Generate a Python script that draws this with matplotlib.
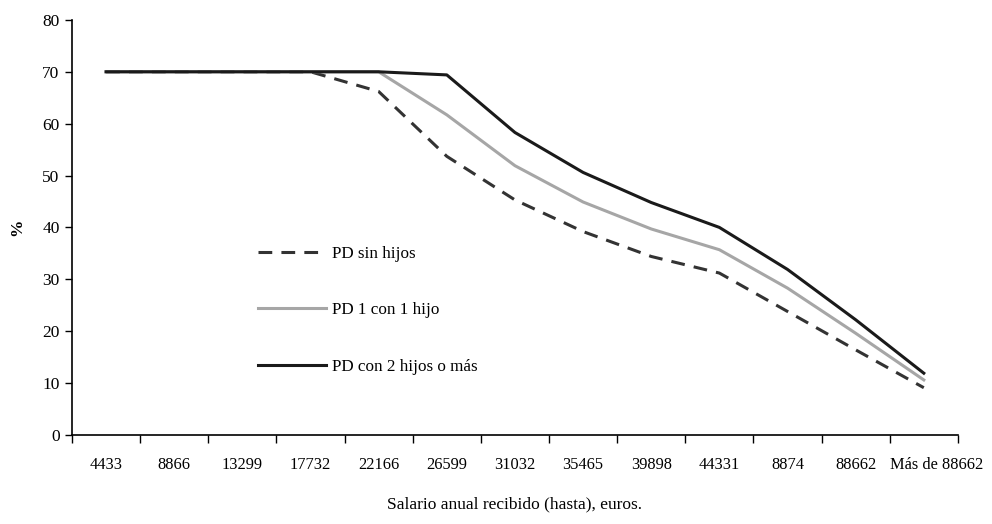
import matplotlib.pyplot as plt
import matplotlib.transforms as mtransforms
from matplotlib.ticker import FixedLocator

plt.rcParams['font.family'] = ['Liberation Serif', 'DejaVu Serif']

# categorias del eje x (salario anual, hasta)
categorias = ['4433', '8866', '13299', '17732', '22166', '26599', '31032',
              '35465', '39898', '44331', '8874', '88662', 'Más de 88662']

# porcentajes
sin_hijos = [70, 70, 70, 70, 66.2, 53.7, 45.3, 39.2, 34.4, 31.2, 23.8, 16.4, 9.1]
con_1_hijo = [70, 70, 70, 70, 70, 61.7, 51.9, 44.9, 39.7, 35.7, 28.3, 19.6, 10.6]
con_2_hijos = [70, 70, 70, 70, 70, 69.4, 58.3, 50.6, 44.8, 40.0, 31.9, 22.2, 11.9]

fig = plt.figure(figsize=(9.92, 5.24), dpi=100)
ax = fig.add_axes([0.0726, 0.170, 0.893, 0.792])

x = range(len(categorias))
ax.plot(x, sin_hijos, color='#333333', lw=2.2, ls=(0, (4.5, 3)), label='PD sin hijos')
ax.plot(x, con_1_hijo, color='#a6a6a6', lw=2.2, label='PD 1 con 1 hijo')
ax.plot(x, con_2_hijos, color='#1a1a1a', lw=2.2, label='PD con 2 hijos o más')

ax.set_xlim(-0.5, len(categorias) - 0.5)
ax.set_ylim(0, 80)
ax.set_yticks(range(0, 81, 10))
ax.set_xticks(list(x))
ax.set_xticklabels(categorias, fontsize=11.8)
ax.xaxis.set_minor_locator(FixedLocator([i - 0.5 for i in range(len(categorias) + 1)]))
ax.tick_params(axis='x', which='major', length=0, pad=16)
ax.tick_params(axis='x', which='minor', length=6, width=1, direction='out')
ax.tick_params(axis='y', length=5, width=1, labelsize=12.5, pad=4)

# la ultima etiqueta va un poco desplazada a la derecha
ultima = ax.get_xticklabels()[-1]
ultima.set_transform(ultima.get_transform() +
                     mtransforms.ScaledTranslation(9 / 72, 0, fig.dpi_scale_trans))

for s in ['top', 'right']:
    ax.spines[s].set_visible(False)
for s in ['left', 'bottom']:
    ax.spines[s].set_linewidth(1.2)

ax.set_ylabel('%', fontsize=12.5, fontweight='bold', labelpad=12)
ax.set_xlabel('Salario anual recibido (hasta), euros.', fontsize=12.5, labelpad=17)

ax.legend(loc='center left', bbox_to_anchor=(0.21, 0.30), frameon=False,
          fontsize=12.3, handlelength=4.0, labelspacing=2.35,
          borderpad=0, borderaxespad=0, handletextpad=0.3)

fig.savefig('out.png', dpi=100)
